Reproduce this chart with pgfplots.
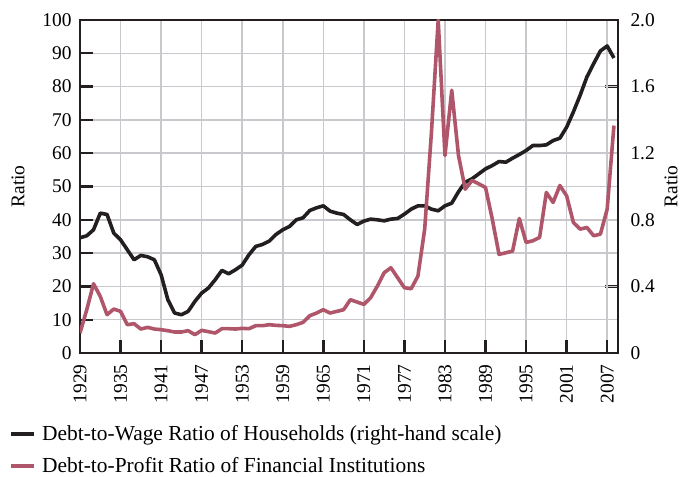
\documentclass[border=0pt]{standalone}
\usepackage{fontspec}
\setmainfont{Liberation Serif}
\usepackage{pgfplots}
\pgfplotsset{compat=1.18}
\definecolor{hhblack}{RGB}{35,31,32}
\definecolor{finpink}{RGB}{176,86,106}
\definecolor{gridgray}{RGB}{200,200,205}

\begin{document}
\begin{tikzpicture}
\useasboundingbox (-80bp,-124bp) rectangle (604bp,353bp);
% right-hand scale
\begin{axis}[
    at={(0,0)}, anchor=origin,
    scale only axis,
    width=538bp, height=333bp,
    xmin=1929, xmax=2008.6,
    ymin=0, ymax=2,
    axis x line=none,
    axis y line*=right,
    ytick={0,0.4,0.8,1.2,1.6,2.0},
    yticklabels={0,0.4,0.8,1.2,1.6,2.0},
    tick align=inside,
    major tick length=13bp,
    major tick style={line width=2.4bp, hhblack},
    axis line style={line width=1.6bp, hhblack, -},
    font=\fontsize{19.5}{23}\selectfont,
    yticklabel style={xshift=9bp},
    ylabel={Ratio},
    ylabel style={at={(axis description cs:1.0985,0.5)}, anchor=center},
]
\end{axis}
% main axis
\begin{axis}[
    at={(0,0)}, anchor=origin,
    scale only axis,
    width=538bp, height=333bp,
    xmin=1929, xmax=2008.6,
    ymin=0, ymax=100,
    xtick={1929,1935,...,2007},
    xticklabels={1929,1935,1941,1947,1953,1959,1965,1971,1977,1983,1989,1995,2001,2007},
    ytick={0,10,...,100},
    yticklabels={0,10,20,30,40,50,60,70,80,90,100},
    tick pos=left,
    tick align=inside,
    major tick length=13bp,
    grid=major,
    grid style={line width=1.5bp, gridgray},
    major tick style={line width=2.4bp, hhblack},
    axis line style={line width=1.6bp, hhblack},
    font=\fontsize{19.5}{23}\selectfont,
    xticklabel style={yshift=-8bp, rotate=90, anchor=east},
    yticklabel style={xshift=-5bp},
    ylabel={Ratio},
    ylabel style={at={(axis description cs:-0.1152,0.5)}, anchor=center},
    legend cell align=left,
    legend style={at={(axis description cs:-0.132,-0.212)}, anchor=north west,
        draw=none, fill=none, inner sep=0pt, row sep=11bp,
        font=\fontsize{21.5}{24}\selectfont,
        nodes={inner xsep=6bp, inner ysep=2bp}},
    legend image code/.code={\draw[#1, line width=4bp] (0bp,0bp) -- (23bp,0bp);},
]
\addplot[hhblack, line width=3.6bp, line join=round] coordinates {
(1929,34.6) (1930,35.2) (1931,37) (1932,42) (1933,41.6) (1934,36) (1935,34)
(1936,31) (1937,28) (1938,29.3) (1939,28.9) (1940,28) (1941,23.5) (1942,16)
(1943,12) (1944,11.5) (1945,12.5) (1946,15.5) (1947,18) (1948,19.5) (1949,22)
(1950,24.8) (1951,23.8) (1952,25) (1953,26.4) (1954,29.5) (1955,32) (1956,32.6)
(1957,33.6) (1958,35.6) (1959,37) (1960,38) (1961,40) (1962,40.6) (1963,42.8)
(1964,43.6) (1965,44.2) (1966,42.6) (1967,42) (1968,41.6) (1969,40) (1970,38.6)
(1971,39.6) (1972,40.2) (1973,40) (1974,39.7) (1975,40.2) (1976,40.4) (1977,41.7)
(1978,43.2) (1979,44.2) (1980,44.2) (1981,43.2) (1982,42.7) (1983,44.2) (1984,45)
(1985,48.4) (1986,51.3) (1987,52.3) (1988,53.8) (1989,55.3) (1990,56.3) (1991,57.5)
(1992,57.3) (1993,58.5) (1994,59.6) (1995,60.8) (1996,62.3) (1997,62.3) (1998,62.5)
(1999,63.8) (2000,64.5) (2001,67.8) (2002,72.4) (2003,77.4) (2004,82.9) (2005,86.9)
(2006,90.7) (2007,92.2) (2008,88.6)
};
\addlegendentry{Debt-to-Wage Ratio of Households (right-hand scale)}
\addplot[finpink, line width=3.6bp, line join=round] coordinates {
(1929,6) (1930,13) (1931,20.8) (1932,17) (1933,11.5) (1934,13.2) (1935,12.5)
(1936,8.5) (1937,8.8) (1938,7.2) (1939,7.7) (1940,7.2) (1941,7) (1942,6.7)
(1943,6.3) (1944,6.3) (1945,6.7) (1946,5.5) (1947,6.8) (1948,6.4) (1949,6)
(1950,7.3) (1951,7.3) (1952,7.2) (1953,7.4) (1954,7.3) (1955,8.2) (1956,8.2)
(1957,8.5) (1958,8.3) (1959,8.2) (1960,8) (1961,8.5) (1962,9.2) (1963,11.2)
(1964,12) (1965,13) (1966,12) (1967,12.5) (1968,13) (1969,16) (1970,15.3)
(1971,14.6) (1972,16.6) (1973,20.1) (1974,24.1) (1975,25.6) (1976,22.6) (1977,19.6)
(1978,19.3) (1979,23.1) (1980,37.2) (1981,66.3) (1982,100) (1983,59.3) (1984,78.9)
(1985,59.3) (1986,49.2) (1987,51.8) (1988,50.8) (1989,49.7) (1990,40.2) (1991,29.6)
(1992,30.1) (1993,30.6) (1994,40.4) (1995,33.2) (1996,33.7) (1997,34.7) (1998,48.2)
(1999,45.2) (2000,50.3) (2001,47.2) (2002,39.2) (2003,37.2) (2004,37.7) (2005,35.2)
(2006,35.7) (2007,43.2) (2008,68.3)
};
\addlegendentry{Debt-to-Profit Ratio of Financial Institutions}
\end{axis}
\end{tikzpicture}
\end{document}
